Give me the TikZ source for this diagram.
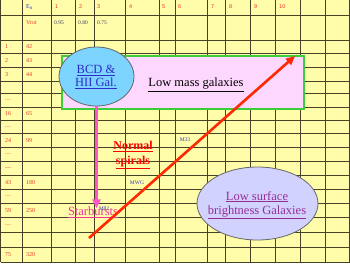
\documentclass[tikz,border=0pt]{standalone}
\usepackage{fontspec}
\setmainfont{Liberation Serif}
\setsansfont{Liberation Sans}
\usetikzlibrary{shapes.geometric,arrows.meta}
\definecolor{tblbg}{RGB}{255,253,170}
\definecolor{gridc}{RGB}{70,66,40}
\definecolor{greenb}{RGB}{60,205,60}
\definecolor{pinkfill}{RGB}{253,215,253}
\definecolor{cyanfill}{RGB}{125,212,255}
\definecolor{lavfill}{RGB}{210,210,255}
\definecolor{arrowred}{RGB}{255,40,0}
\definecolor{arrowpink}{RGB}{255,85,200}
\definecolor{sbcol}{RGB}{240,50,160}
\definecolor{txtblue}{RGB}{45,45,200}
\definecolor{txtpurple}{RGB}{150,45,150}
\definecolor{cellred}{RGB}{235,50,40}
\definecolor{valc}{RGB}{60,60,90}
\definecolor{smallblue}{RGB}{60,60,170}
\newcommand{\rowdots}{....}
\tikzset{
  gridline/.style={draw=gridc, line width=1pt},
  rowlab/.style={anchor=west, inner sep=0pt, text=cellred, font=\fontsize{6}{7}\selectfont},
  collab/.style={anchor=west, inner sep=0pt, text=cellred, font=\sffamily\fontsize{5.5}{6}\selectfont},
  vallab/.style={anchor=west, inner sep=0pt, text=valc, font=\fontsize{5.5}{6}\selectfont},
  tinyblue/.style={inner sep=0pt, text=smallblue, font=\fontsize{5.5}{6}\selectfont},
  bigtext/.style={inner sep=0pt, align=center, font=\fontsize{12.5}{14}\selectfont},
  galell/.style={ellipse, draw=gray!80!black, line width=0.8pt, inner sep=0pt},
  bigarrow/.style={line width=2.6pt, -{Triangle[length=9pt,width=8pt]}},
}
\begin{document}
\begin{tikzpicture}[x=1pt,y=-1pt]
\useasboundingbox (0,0) rectangle (350,263);
\fill[tblbg] (0,0) rectangle (350,263);
% grid
\foreach \yy in {15,40,53.5,67.5,81.5,93,107,120,133.5,147.5,161.5,175.5,189.5,203.5,217.5,232,247,262}
  \draw[gridline] (0.5,\yy) -- (349.5,\yy);
\foreach \xx in {0.5,22,51,75,94,125,159,175,207,225,250,275,300,325,349.5}
  \draw[gridline] (\xx,0) -- (\xx,262);
% header row
\node[anchor=west, inner sep=0pt, text=txtblue, font=\fontsize{6}{7}\selectfont] (e0) at (26,7) {E\textsubscript{o}};
\node[rowlab] (vrot) at (26,23) {Vrot};
\foreach \xx/\t [count=\i] in {55/1,79/2,97/3,129/4,162/5,178/6,211/7,229/8,254/9,279/10}
  \node[collab] (c\i) at (\xx,7) {\t};
\node[vallab] (v1) at (54,23) {0.95};
\node[vallab] (v2) at (78,23) {0.80};
\node[vallab] (v3) at (97,23) {0.75};
% row labels
\foreach \yy/\a/\b [count=\i] in {47/1/42,60.5/2/43,74.5/3/44,100/\rowdots/,113.5/16/65,127/\rowdots/,140.5/24/99,154.5/\rowdots/,168.5/---/,182.5/43/180,196.5/\rowdots/,210.5/59/250,225/\rowdots/,254.5/75/320}{
  \node[rowlab] (ra\i) at (5,\yy) {\a};
  \node[rowlab] (rb\i) at (26,\yy) {\b};
}
% low mass box
\node[draw=greenb, fill=pinkfill, line width=2.2pt, minimum width=242pt, minimum height=53pt, inner sep=0pt] (lowbox) at (183,82.5) {};
\node[bigtext] (lowtxt) at (196,85) {\underline{Low mass galaxies}};
% BCD ellipse
\node[galell, fill=cyanfill, minimum width=75pt, minimum height=59pt] (bcd) at (96.5,76.5) {};
\node[bigtext, text=txtblue] (bcdtxt) at (96,77) {\underline{BCD \&}\\[-1pt]\underline{HII Gal.}};
% small labels
\node[tinyblue] (m33) at (185,140) {M33};
\node[tinyblue] (mwg) at (137,183) {MWG};
% Normal spirals
\node[bigtext, text=red, font=\bfseries\fontsize{12}{14}\selectfont] (normal) at (133,155) {\underline{Normal}\\[0.5pt]\underline{spirals}};
% Starbursts
\node[bigtext, text=sbcol] (sb) at (93,212) {\underline{Starbursts}};
\node[tinyblue] (m82) at (104,209) {M82};
% LSB ellipse
\node[galell, fill=lavfill, minimum width=121pt, minimum height=73pt] (lsb) at (257.5,203.5) {};
\node[bigtext, text=txtpurple] (lsbtxt) at (257,205) {\underline{Low surface}\\\underline{brightness Galaxies}};
% arrows
\draw[bigarrow, arrowpink, line width=2.4pt] (bcd.south) -- ([yshift=-2pt]bcd.south |- sb.north);
\coordinate (redstart) at (89,238);
\coordinate (redend) at (295,56);
\draw[bigarrow, arrowred] (redstart) -- (redend);
\end{tikzpicture}
\end{document}
